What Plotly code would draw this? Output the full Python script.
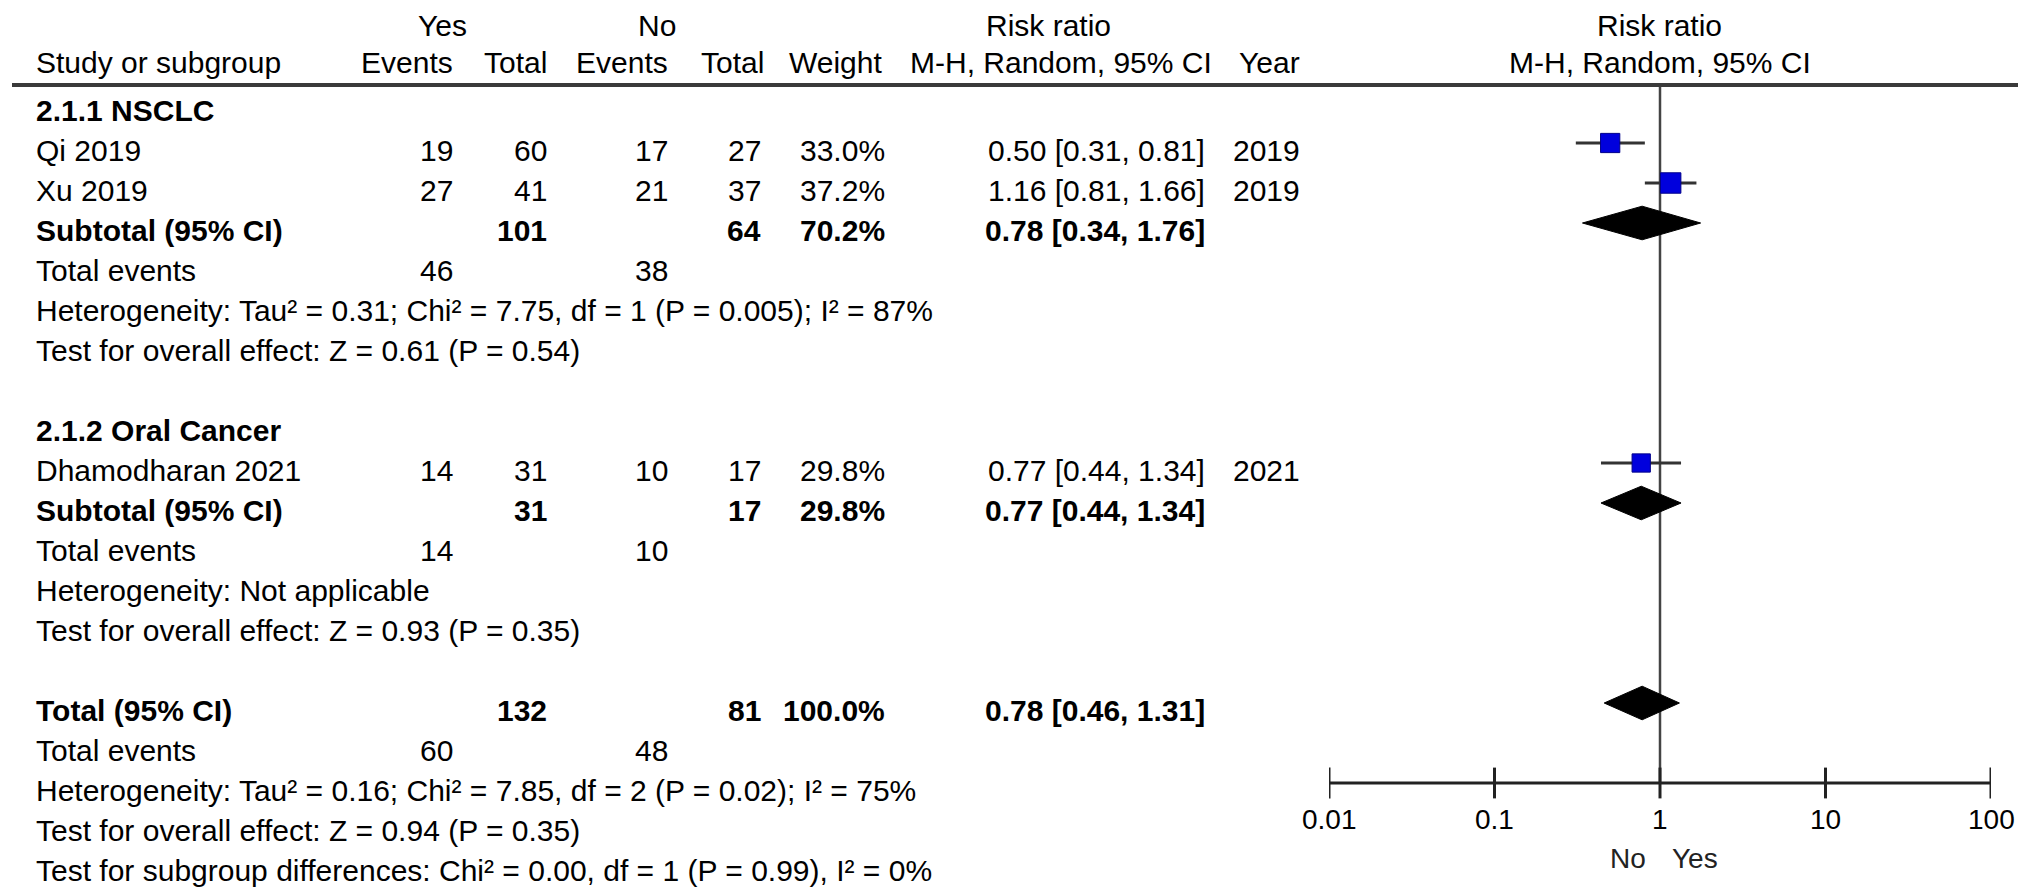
import math
import plotly.graph_objects as go

W, H = 2032, 895

# ---------------- data ----------------
study_labels = ["Qi 2019", "Xu 2019", "Dhamodharan 2021"]
study_rows = [1, 2, 9]
yes_events = [19, 27, 14]
yes_total = [60, 41, 31]
no_events = [17, 21, 10]
no_total = [27, 37, 17]
weights = [33.0, 37.2, 29.8]
rr = [0.50, 1.16, 0.77]
ci_lo = [0.31, 0.81, 0.44]
ci_hi = [0.81, 1.66, 1.34]
years = [2019, 2019, 2021]

pooled_labels = ["Subtotal (95% CI)", "Subtotal (95% CI)", "Total (95% CI)"]
pooled_rows = [3, 10, 15]
pooled_yes_total = [101, 31, 132]
pooled_no_total = [64, 17, 81]
pooled_weight = [70.2, 29.8, 100.0]
pooled_rr = [0.78, 0.77, 0.78]
pooled_lo = [0.34, 0.44, 0.46]
pooled_hi = [1.76, 1.34, 1.31]

events_rows = [4, 11, 16]
events_yes = [46, 14, 60]
events_no = [38, 10, 48]

subgroup_rows = [0, 8]
subgroup_labels = ["2.1.1 NSCLC", "2.1.2 Oral Cancer"]

stat_rows = [5, 6, 12, 13, 17, 18, 19]
stat_texts = [
    "Heterogeneity: Tau² = 0.31; Chi² = 7.75, df = 1 (P = 0.005); I² = 87%",
    "Test for overall effect: Z = 0.61 (P = 0.54)",
    "Heterogeneity: Not applicable",
    "Test for overall effect: Z = 0.93 (P = 0.35)",
    "Heterogeneity: Tau² = 0.16; Chi² = 7.85, df = 2 (P = 0.02); I² = 75%",
    "Test for overall effect: Z = 0.94 (P = 0.35)",
    "Test for subgroup differences: Chi² = 0.00, df = 1 (P = 0.99), I² = 0%",
]

axis_ticks = [0.01, 0.1, 1, 10, 100]
axis_tick_labels = ["0.01", "0.1", "1", "10", "100"]
favours_left = "No"
favours_right = "Yes"
axis_row = 17

# ---------------- layout constants (pixels) ----------------
FONT = "Liberation Sans, Arial, sans-serif"
FS = 30
X_LABEL = 34
X_YES_EV = 455
X_YES_TOT = 549
X_NO_EV = 670
X_NO_TOT = 763
X_WEIGHT = 887
X_RR = 1207
X_YEAR = 1302
TEXT_SHIFT = -7

fig = go.Figure()

# null line
fig.add_trace(go.Scatter(x=[1, 1], y=[-0.45, axis_row], mode="lines",
                         line=dict(color="#444", width=2.5), hoverinfo="skip"))

# CI lines + squares
for i in range(len(rr)):
    fig.add_trace(go.Scatter(x=[ci_lo[i], ci_hi[i]], y=[study_rows[i]] * 2, mode="lines",
                             line=dict(color="#333", width=3), hoverinfo="skip"))
fig.add_trace(go.Scatter(
    x=rr, y=study_rows, mode="markers",
    marker=dict(symbol="square", size=[3.35 * math.sqrt(w) for w in weights],
                color="#0000dd", opacity=1, line=dict(color="#00008a", width=1)),
    hoverinfo="skip"))

# diamonds
DH = 0.42
for i in range(len(pooled_rr)):
    r = pooled_rows[i]
    fig.add_trace(go.Scatter(
        x=[pooled_lo[i], pooled_rr[i], pooled_hi[i], pooled_rr[i], pooled_lo[i]],
        y=[r, r - DH, r, r + DH, r], mode="lines", fill="toself",
        fillcolor="black", line=dict(color="black", width=1), hoverinfo="skip"))

# axis line + ticks
fig.add_trace(go.Scatter(x=[axis_ticks[0], axis_ticks[-1]], y=[axis_row] * 2, mode="lines",
                         line=dict(color="#222", width=3), hoverinfo="skip"))
fig.add_trace(go.Scatter(x=axis_ticks, y=[axis_row] * len(axis_ticks), mode="markers",
                         marker=dict(symbol="line-ns-open", size=22, color="#222",
                                     line=dict(color="#222", width=3)),
                         hoverinfo="skip"))

ann = []


def txt(x, row, s, anchor="right", bold=False, shift=TEXT_SHIFT):
    if bold:
        s = "<b>" + s + "</b>"
    ann.append(dict(x=x / W, xref="paper", y=row, yref="y", yshift=shift, text=s,
                    showarrow=False, xanchor=anchor, yanchor="middle",
                    font=dict(family=FONT, size=FS, color="black")))


def htxt(x, ypix, s, anchor="center"):
    ann.append(dict(x=x / W, xref="paper", y=1 - ypix / H, yref="paper", text=s,
                    showarrow=False, xanchor=anchor, yanchor="middle",
                    font=dict(family=FONT, size=FS, color="black")))


# headers
htxt(442, 25, "Yes")
htxt(657, 25, "No")
htxt(1048, 25, "Risk ratio")
htxt(1659, 25, "Risk ratio")
htxt(X_LABEL, 63, "Study or subgroup", "left")
htxt(X_YES_EV, 63, "Events", "right")
htxt(X_YES_TOT, 63, "Total", "right")
htxt(X_NO_EV, 63, "Events", "right")
htxt(X_NO_TOT + 3, 63, "Total", "right")
htxt(X_WEIGHT - 3, 63, "Weight", "right")
htxt(1061, 63, "M-H, Random, 95% CI")
htxt(X_YEAR, 63, "Year", "right")
htxt(1660, 63, "M-H, Random, 95% CI")

# subgroup headings
for r, s in zip(subgroup_rows, subgroup_labels):
    txt(X_LABEL, r, s, "left", bold=True)

# studies
for i in range(len(study_labels)):
    r = study_rows[i]
    txt(X_LABEL, r, study_labels[i], "left")
    txt(X_YES_EV, r, str(yes_events[i]))
    txt(X_YES_TOT, r, str(yes_total[i]))
    txt(X_NO_EV, r, str(no_events[i]))
    txt(X_NO_TOT, r, str(no_total[i]))
    txt(X_WEIGHT, r, f"{weights[i]:.1f}%")
    txt(X_RR, r, f"{rr[i]:.2f} [{ci_lo[i]:.2f}, {ci_hi[i]:.2f}]")
    txt(X_YEAR, r, str(years[i]))

# pooled rows
for i in range(len(pooled_labels)):
    r = pooled_rows[i]
    txt(X_LABEL, r, pooled_labels[i], "left", bold=True)
    txt(X_YES_TOT, r, str(pooled_yes_total[i]), bold=True)
    txt(X_NO_TOT, r, str(pooled_no_total[i]), bold=True)
    txt(X_WEIGHT, r, f"{pooled_weight[i]:.1f}%", bold=True)
    txt(X_RR, r, f"{pooled_rr[i]:.2f} [{pooled_lo[i]:.2f}, {pooled_hi[i]:.2f}]", bold=True)

# total events
for i in range(len(events_rows)):
    r = events_rows[i]
    txt(X_LABEL, r, "Total events", "left")
    txt(X_YES_EV, r, str(events_yes[i]))
    txt(X_NO_EV, r, str(events_no[i]))

# statistics
for r, s in zip(stat_rows, stat_texts):
    txt(X_LABEL, r, s, "left")

# axis tick labels
for v, s in zip(axis_ticks, axis_tick_labels):
    ann.append(dict(x=math.log10(v), xref="x", y=axis_row, yref="y", yshift=-36, text=s,
                    showarrow=False, xanchor="center", yanchor="middle",
                    font=dict(family=FONT, size=28, color="black")))
ann.append(dict(x=0, xref="x", y=axis_row, yref="y", yshift=-75, xshift=-12,
                text=favours_left, showarrow=False, xanchor="right", yanchor="middle",
                font=dict(family=FONT, size=28, color="#222")))
ann.append(dict(x=0, xref="x", y=axis_row, yref="y", yshift=-75, xshift=10,
                text=favours_right, showarrow=False, xanchor="left", yanchor="middle",
                font=dict(family=FONT, size=28, color="#222")))

TOP = -103 / 40
BOT = (H - 103) / 40

fig.update_layout(
    width=W, height=H, margin=dict(l=0, r=0, t=0, b=0),
    paper_bgcolor="white", plot_bgcolor="white", showlegend=False,
    xaxis=dict(type="log", range=[-2, 2], domain=[1329 / W, 1991 / W],
               visible=False, fixedrange=True),
    yaxis=dict(range=[BOT, TOP], domain=[0, 1], visible=False, fixedrange=True),
    annotations=ann,
    shapes=[dict(type="line", xref="paper", yref="y", x0=12 / W, x1=2018 / W,
                 y0=-0.45, y1=-0.45, line=dict(color="#3a3a3a", width=4))],
)

fig.write_html("out.html", config={"displayModeBar": False},
               post_script="document.body.style.margin='0';document.body.style.overflow='hidden';")
